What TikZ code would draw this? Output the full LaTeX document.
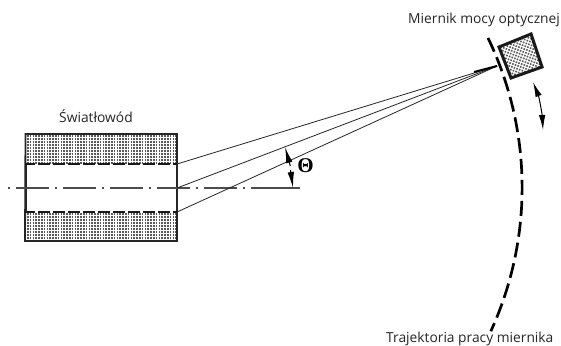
\documentclass[tikz,border=0pt]{standalone}
\usepackage{fontspec}
\setmainfont{Open Sans}
\newfontfamily\thetafont{Liberation Serif}
\usetikzlibrary{arrows.meta}
\tikzset{
  x=1pt,y=-1pt,
  label text/.style={inner sep=0pt,font=\fontsize{13.8}{15}\selectfont,text=black!85},
  frame/.style={line width=1.8pt,draw=black!85},
  coreline/.style={line width=2.1pt,draw=black!90,dash pattern=on 12pt off 3pt,dash phase=2pt},
  axis/.style={line width=1.1pt,draw=black!70,dash pattern=on 33pt off 5.5pt on 2pt off 6.5pt,dash phase=39pt},
  ray/.style={line width=0.8pt,draw=black!85},
  track/.style={line width=2.7pt,draw=black,dash pattern=on 15pt off 6pt},
  dots/.style={line width=1.6pt,draw=black!65,dash pattern=on 1.6pt off 1.2pt},
  twoway/.style={line width=1pt,draw=black,{Latex[length=15pt,width=6.5pt]}-{Latex[length=15pt,width=6.5pt]}},
  angle tip/.style={line width=1pt,draw=black,-{Latex[length=16pt,width=6.5pt]}}
}
\begin{document}
\begin{tikzpicture}
\useasboundingbox (0,0) rectangle (561,345);
\fill[white] (0,0) rectangle (561,345);
% fibre cladding hatching
\foreach \y in {136,139,...,163}{\draw[dots] (27,\y) -- (176,\y);}
\foreach \y in {214,217,...,241}{\draw[dots] (27,\y) -- (176,\y);}
% fibre body
\draw[frame] (25.5,134) -- (177,134) -- (177,241) -- (25,241) -- cycle;
\fill[white] (27,165) rectangle (176,211);
\draw[line width=0.7pt,black!85] (26,165) -- (26,211);
\draw[coreline] (25,164) -- (177,164);
\draw[coreline] (25,212) -- (177,212);
\draw[axis] (8,188) -- (300,188);
\draw[line width=1.1pt,black!70] (251,188) -- (300,188);
% rays
\coordinate (fa) at (177,164);
\coordinate (fb) at (177,188);
\coordinate (fc) at (177,212);
\coordinate (tip) at (497,66);
\draw[ray] (fa) -- (tip);
\draw[ray] (fb) -- (tip);
\draw[ray] (fc) -- (tip);
\draw[line width=2pt,black] (474,72) -- (tip);
% trajectory
\draw[track] (488,38) arc[start angle=-25.7,end angle=24.6,radius=345];
% meter
\fill[white] (499,47) -- (531,34) -- (542,67) -- (511,78) -- cycle;
\begin{scope}
\clip (499,47) -- (531,34) -- (542,67) -- (511,78) -- cycle;
\begin{scope}[rotate around={-20:(520,56)}]
\foreach \y in {30,33,...,84}{\draw[dots] (490,\y) -- (550,\y);}
\end{scope}
\end{scope}
\draw[line width=3pt,black!90,line join=miter] (499,47) -- (531,34) -- (542,67) -- (511,78) -- cycle;
% motion arrow
\coordinate (ma) at (533,82);
\coordinate (mb) at (543,130);
\draw[twoway] (ma) .. controls (539,97) and (542,113) .. (mb);
% angle arrows
\coordinate (am) at (290.3,166);
\coordinate (amb) at (290.5,170);
\coordinate (aa) at (285,147);
\coordinate (ac) at (293,188);
\draw[angle tip] (am) -- (aa);
\draw[angle tip] (amb) -- (ac);
\node[inner sep=0pt,font=\thetafont\bfseries\fontsize{21}{21}\selectfont] (theta) at (305.5,166) {Θ};
% labels
\node[label text,anchor=base west] (lf) at (59,122) {Światłowód};
\node[label text,anchor=base west] (lm) at (408,24) {Miernik mocy optycznej};
\node[label text,anchor=base west] (lt) at (386,342) {Trajektoria pracy miernika};
\end{tikzpicture}
\end{document}
